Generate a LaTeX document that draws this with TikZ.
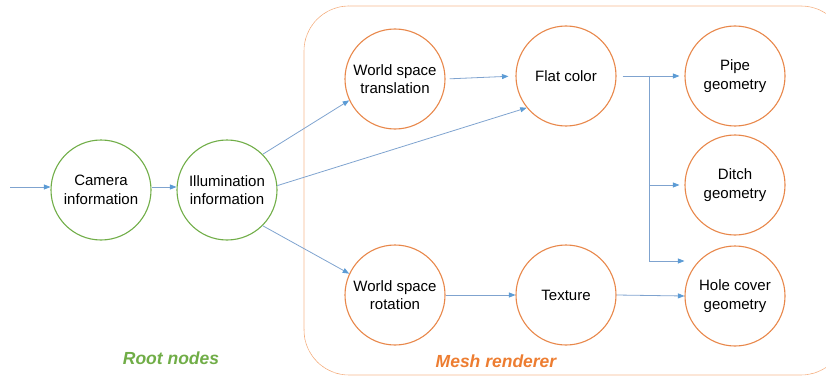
\documentclass[tikz,border=0pt]{standalone}
\usepackage{fontspec}
\setmainfont{Liberation Sans}
\usetikzlibrary{arrows.meta,calc}
\definecolor{rootgreen}{HTML}{70AD47}
\definecolor{meshorange}{HTML}{ED7D31}
\definecolor{circorange}{HTML}{E8874A}
\definecolor{linkblue}{HTML}{7FA3CF}
\definecolor{tipblue}{HTML}{5B9BD5}
\tikzset{
  stage/.style={circle, draw, line width=1.1pt, minimum size=100pt, inner sep=0pt,
    align=center, font=\fontsize{15}{18.5}\selectfont},
  rootstage/.style={stage, draw=rootgreen},
  meshstage/.style={stage, draw=circorange},
  link/.style={draw=linkblue, line width=0.8pt,
    -{Triangle[length=6.5pt,width=5pt,color=tipblue,fill=tipblue]}},
  plainlink/.style={draw=linkblue, line width=0.8pt},
  grouplabel/.style={font=\fontsize{17.5}{20}\selectfont\bfseries\itshape},
}
\begin{document}
\begin{tikzpicture}[x=1pt,y=-1pt]
\useasboundingbox (0,0) rectangle (826,377);
% group frame
\begin{scope}
  \clip (0,0) rectangle (826,377);
  \draw[meshorange!85, line width=0.6pt, dash pattern=on 0.5pt off 0.5pt, rounded corners=45pt]
    (304,6) rectangle (846,375);
\end{scope}
% root nodes
\node[rootstage] (cam) at (101,190) {Camera\\information};
\node[rootstage] (ill) at (227,190) {Illumination\\information};
% mesh renderer nodes
\node[meshstage] (wst) at (395,79) {World space\\translation};
\node[meshstage] (flat) at (566,76) {Flat color};
\node[meshstage] (pipe) at (735,76) {Pipe\\geometry};
\node[meshstage] (ditch) at (735,185) {Ditch\\geometry};
\node[meshstage] (hole) at (735,296) {Hole cover\\geometry};
\node[meshstage] (rot) at (395,295) {World space\\rotation};
\node[meshstage] (tex) at (566,295) {Texture};
% labels
\node[grouplabel, text=rootgreen] (rootlbl) at (171,358) {Root nodes};
\node[grouplabel, text=meshorange] (meshlbl) at (496,361) {Mesh renderer};
% connectors
\coordinate (input) at (10,187);
\coordinate (split) at (649,76);
\draw[link] (input) -- (cam.west |- input);
\draw[link] (cam.east |- input) -- (ill.west |- input);
\draw[link] (ill.45) -- (wst.205);
\draw[link] (ill.5) -- (flat.219);
\draw[link] (ill.-45) -- (rot.155);
\draw[link, shorten <=4pt, shorten >=7pt] (wst.east) -- (flat.west);
\draw[plainlink, shorten <=6pt] (flat.east) -- (split);
\draw[link, shorten >=5pt] (split) -- (pipe.west);
\draw[link, shorten >=5pt] (split) |- (ditch.west);
\draw[link] (split) |- ($(hole.west)+(0,-35)$);
\draw[link] (rot.east) -- (tex.west);
\draw[link] (tex.east) -- (hole.west);
\end{tikzpicture}
\end{document}
